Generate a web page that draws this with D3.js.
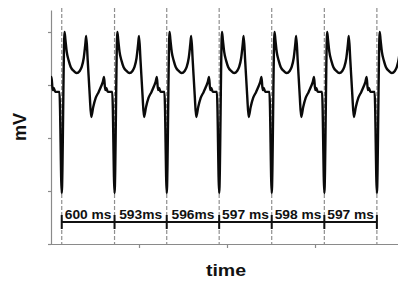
<!DOCTYPE html>
<html>
<head>
<meta charset="utf-8">
<script src="https://cdn.jsdelivr.net/npm/d3@7"></script>
<style>
  body { margin: 0; background: #fff; }
  svg { display: block; font-family: "Liberation Sans", Arial, sans-serif; }
</style>
</head>
<body>
<svg id="chart" width="398" height="283"></svg>
<script>
// beat (stimulus) times in ms, and the measured intervals between them
var beatTimes = [122, 722, 1315, 1911, 2508, 3106, 3703];
var intervalLabels = ["600 ms", "593ms", "596ms", "597 ms", "598 ms", "597 ms"];

// one action potential: offset from beat (ms) and mV
var apOffsets = [0, 32, 42, 57, 80, 102, 136, 170, 204, 227, 250, 267, 278, 295, 318, 335, 358, 386, 420, 449, 466, 481, 494, 506, 523, 540];
var apValues  = [-60.8, 0, -3, -7.5, -10.9, -13.2, -14.7, -15.5, -14.7, -13.2, -9.8, -4.9, -1.5, -10.6, -23.8, -32.1, -28.3, -24.9, -22.6, -20.4, -18.9, -17, -21.9, -21.1, -22.6, -22.6];
var plateauBefore = 26;   // ms before a beat the trace is flat
var plateauValue = -22.6;
var prevBeat = -475;      // beat before the window, its tail shows at the left

var yTicks = [-80, -60, -40, -20, 0];
var xTicks = [1000, 2000, 3000];

var svg = d3.select("#chart");
var margin = {left: 51, right: 0, top: 10, bottom: 39};
var W = 398, H = 283;

var x = d3.scaleLinear().domain([0, 3943]).range([margin.left, W - margin.right]);
var y = d3.scaleLinear().domain([-80, 8.3]).range([H - margin.bottom, margin.top]);

// build the trace
var beats = [prevBeat].concat(beatTimes);
var trace = [];
beats.forEach(function(b, i) {
  var next = beats[i + 1];
  apOffsets.forEach(function(o, k) {
    var t = b + o;
    if (next === undefined || t < next - plateauBefore) trace.push([t, apValues[k]]);
  });
  if (next !== undefined) trace.push([next - plateauBefore, plateauValue]);
});

svg.append("defs").append("clipPath").attr("id", "clip")
  .append("rect")
  .attr("x", margin.left).attr("y", 0)
  .attr("width", W - margin.left).attr("height", H);

// axes
var yAxis = svg.append("g")
  .attr("transform", "translate(" + margin.left + ",0)")
  .call(d3.axisLeft(y).tickValues(yTicks).tickSize(3).tickSizeOuter(0).tickFormat(""));
var xAxis = svg.append("g")
  .attr("transform", "translate(0," + y(-80) + ")")
  .call(d3.axisBottom(x).tickValues(xTicks).tickSize(4).tickSizeOuter(0).tickFormat(""));
svg.selectAll(".domain, .tick line").attr("stroke", "#8a8a8a").attr("stroke-width", 1.2);
xAxis.select(".domain").attr("d", "M" + (margin.left - 1) + ",0.5H" + W);

// dashed beat markers
svg.selectAll(".beat")
  .data(beatTimes)
  .enter().append("line")
  .attr("class", "beat")
  .attr("x1", function(d) { return x(d); })
  .attr("x2", function(d) { return x(d); })
  .attr("y1", 8)
  .attr("y2", y(-80))
  .attr("stroke", "#8f8f8f")
  .attr("stroke-width", 1.2)
  .attr("stroke-dasharray", "4,2");

// voltage trace
var line = d3.line()
  .x(function(d) { return x(d[0]); })
  .y(function(d) { return y(d[1]); })
  .curve(d3.curveMonotoneX);

svg.append("path")
  .datum(trace)
  .attr("clip-path", "url(#clip)")
  .attr("d", line)
  .attr("fill", "none")
  .attr("stroke", "#0a0a0a")
  .attr("stroke-width", 2.4)
  .attr("stroke-linejoin", "round");

// interval bar
var barY = 222;
svg.append("line")
  .attr("x1", x(beatTimes[0])).attr("x2", x(beatTimes[beatTimes.length - 1]))
  .attr("y1", barY).attr("y2", barY)
  .attr("stroke", "#111").attr("stroke-width", 2);

svg.selectAll(".btick")
  .data(beatTimes)
  .enter().append("line")
  .attr("class", "btick")
  .attr("x1", function(d) { return x(d); })
  .attr("x2", function(d) { return x(d); })
  .attr("y1", barY - 7).attr("y2", barY + 7)
  .attr("stroke", "#111").attr("stroke-width", 2);

svg.selectAll(".ilabel")
  .data(intervalLabels)
  .enter().append("text")
  .attr("class", "ilabel")
  .attr("transform", function(d, i) {
    var cx = (x(beatTimes[i]) + x(beatTimes[i + 1])) / 2;
    return "translate(" + cx + "," + (barY - 3) + ") scale(1.15,1)";
  })
  .attr("text-anchor", "middle")
  .attr("font-size", 12)
  .attr("font-weight", "bold")
  .attr("fill", "#111")
  .text(function(d) { return d; });

// axis titles
svg.append("text")
  .attr("transform", "translate(226,275.5) scale(1.15,1)")
  .attr("text-anchor", "middle")
  .attr("font-size", 17)
  .attr("font-weight", "bold")
  .attr("fill", "#111")
  .text("time");

svg.append("text")
  .attr("transform", "translate(26,127) rotate(-90)")
  .attr("text-anchor", "middle")
  .attr("font-size", 18)
  .attr("font-weight", "bold")
  .attr("fill", "#111")
  .text("mV");
</script>
</body>
</html>
